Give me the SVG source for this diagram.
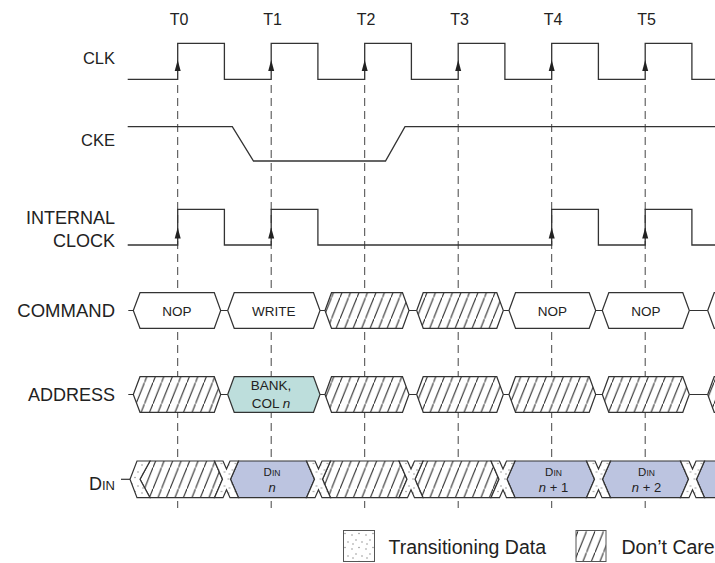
<svg xmlns="http://www.w3.org/2000/svg" xmlns:xlink="http://www.w3.org/1999/xlink" width="715" height="563" viewBox="0 0 715 563">
<style>
.wave{fill:none;stroke:#333;stroke-width:1.3}
.dash{fill:none;stroke:#444;stroke-width:1;stroke-dasharray:8 5}
.bus{stroke:#333;stroke-width:1.2;stroke-linejoin:miter}
.ln{fill:none;stroke:#333;stroke-width:1.2}
.lbl{font-family:"Liberation Sans",Arial,sans-serif;fill:#222}
.hat{fill:url(#hatch)}
.dot{fill:url(#dots)}
.wht{fill:#fff}
.blue{fill:#bcc4e0}
.teal{fill:#bddedc}
.arr{fill:#222}
</style>
<defs>
<pattern id="hatch" patternUnits="userSpaceOnUse" width="8.5" height="21.25">
<rect width="8.5" height="21.25" fill="#fff"/>
<path d="M-2,26.25 L10.5,-5" stroke="#222" stroke-width="1"/>
</pattern>
<pattern id="dots" patternUnits="userSpaceOnUse" width="14" height="14">
<rect width="14" height="14" fill="#fff"/>
<g fill="#8a8a8a"><circle cx="2" cy="3" r="0.75"/><circle cx="9" cy="1.5" r="0.75"/><circle cx="6" cy="8" r="0.75"/><circle cx="12" cy="10" r="0.75"/><circle cx="3" cy="12" r="0.75"/></g>
</pattern>
<polygon id="xcross" points="-12,461 -3.5,461 0,469 3.5,461 12,461 4,479.3 12,497.7 3.5,497.7 0,489.7 -3.5,497.7 -12,497.7 -4,479.3"/>
<path id="up" d="M0,0 L3,11 L-3,11 Z"/>
</defs>

<!-- time labels -->
<g id="tlabels" class="lbl" font-size="16" text-anchor="middle">
<text x="179" y="24.5">T0</text>
<text x="272.5" y="24.5">T1</text>
<text x="366" y="24.5">T2</text>
<text x="459.5" y="24.5">T3</text>
<text x="553" y="24.5">T4</text>
<text x="646.5" y="24.5">T5</text>
</g>

<!-- signal labels -->
<g id="labels" class="lbl" text-anchor="end">
<text x="115" y="64.3" font-size="16.5">CLK</text>
<text x="115" y="146" font-size="16.5">CKE</text>
<text x="115" y="223.5" font-size="18">INTERNAL</text>
<text x="115" y="246.5" font-size="18">CLOCK</text>
<text x="115" y="317.3" font-size="18.5">COMMAND</text>
<text x="115" y="401" font-size="18">ADDRESS</text>
<text x="115" y="490" font-size="18">D<tspan font-size="13">IN</tspan></text>
</g>

<!-- dashed time markers -->
<g id="connectors">
<path class="dash" d="M177.7,85 V508 M271.2,85 V508 M364.7,85 V508 M458.2,85 V508 M551.7,85 V508 M645.2,85 V508"/>
</g>

<!-- CLK -->
<g id="clk">
<path class="wave" d="M127.7,79.3 H177.7 V43.3 H224.4 V79.3 H271.2 V43.3 H317.9 V79.3 H364.7 V43.3 H411.4 V79.3 H458.2 V43.3 H504.9 V79.3 H551.7 V43.3 H598.4 V79.3 H645.2 V43.3 H691.9 V79.3 H715"/>
<g class="arr">
<use xlink:href="#up" x="177.7" y="60"/>
<use xlink:href="#up" x="271.2" y="60"/>
<use xlink:href="#up" x="364.7" y="60"/>
<use xlink:href="#up" x="458.2" y="60"/>
<use xlink:href="#up" x="551.7" y="60"/>
<use xlink:href="#up" x="645.2" y="60"/>
</g>
</g>

<!-- CKE -->
<g id="cke">
<path class="wave" d="M127.7,126.7 H232.3 L253.5,161 H385.5 L405,126.7 H715"/>
</g>

<!-- INTERNAL CLOCK -->
<g id="internal-clock">
<path class="wave" d="M127.7,245 H177.7 V209.3 H224.4 V245 H271.2 V209.3 H317.9 V245 H551.7 V209.3 H598.4 V245 H645.2 V209.3 H691.9 V245 H715"/>
<g class="arr">
<use xlink:href="#up" x="177.7" y="227.5"/>
<use xlink:href="#up" x="271.2" y="227.5"/>
<use xlink:href="#up" x="551.7" y="227.5"/>
<use xlink:href="#up" x="645.2" y="227.5"/>
</g>
</g>

<!-- COMMAND -->
<g id="command">
<path class="ln" d="M128.3,310.5 H133.3 M220.7,310.5 H227.7 M320,310.5 H325 M409,310.5 H416.7 M503.3,310.5 H509 M595.7,310.5 H602.3 M689.3,310.5 H707.7"/>
<polygon class="bus wht" points="133.3,310.5 140,292.7 214.3,292.7 220.7,310.5 214.3,328.3 140,328.3"/>
<polygon class="bus wht" points="227.7,310.5 234.2,292.7 313.5,292.7 320,310.5 313.5,328.3 234.2,328.3"/>
<polygon class="bus hat" points="325,310.5 331.5,292.7 402.5,292.7 409,310.5 402.5,328.3 331.5,328.3"/>
<polygon class="bus hat" points="416.7,310.5 423.2,292.7 496.8,292.7 503.3,310.5 496.8,328.3 423.2,328.3"/>
<polygon class="bus wht" points="509,310.5 515.5,292.7 589.2,292.7 595.7,310.5 589.2,328.3 515.5,328.3"/>
<polygon class="bus wht" points="602.3,310.5 608.8,292.7 682.8,292.7 689.3,310.5 682.8,328.3 608.8,328.3"/>
<polygon class="bus wht" points="707.7,310.5 714.2,292.7 720,292.7 720,328.3 714.2,328.3"/>
<g class="lbl" font-size="13.5" text-anchor="middle">
<text x="177" y="316">NOP</text>
<text x="273.8" y="316">WRITE</text>
<text x="552.3" y="316">NOP</text>
<text x="645.8" y="316">NOP</text>
</g>
</g>

<!-- ADDRESS -->
<g id="address">
<path class="ln" d="M128.3,394.5 H133.3 M220.7,394.5 H227.7 M320,394.5 H325 M409,394.5 H416.7 M503.3,394.5 H509 M595.7,394.5 H602.3 M689.3,394.5 H707.7"/>
<polygon class="bus hat" points="133.3,394.5 140,376.7 214.3,376.7 220.7,394.5 214.3,412.3 140,412.3"/>
<polygon class="bus teal" points="227.7,394.5 234.2,376.7 313.5,376.7 320,394.5 313.5,412.3 234.2,412.3"/>
<polygon class="bus hat" points="325,394.5 331.5,376.7 402.5,376.7 409,394.5 402.5,412.3 331.5,412.3"/>
<polygon class="bus hat" points="416.7,394.5 423.2,376.7 496.8,376.7 503.3,394.5 496.8,412.3 423.2,412.3"/>
<polygon class="bus hat" points="509,394.5 515.5,376.7 589.2,376.7 595.7,394.5 589.2,412.3 515.5,412.3"/>
<polygon class="bus hat" points="602.3,394.5 608.8,376.7 682.8,376.7 689.3,394.5 682.8,412.3 608.8,412.3"/>
<polygon class="bus hat" points="707.7,394.5 714.2,376.7 720,376.7 720,412.3 714.2,412.3"/>
<g class="lbl" font-size="13.5" text-anchor="middle">
<text x="271" y="390">BANK,</text>
<text x="271" y="408">COL <tspan font-style="italic">n</tspan></text>
</g>
</g>

<!-- DIN -->
<g id="din">
<path class="ln" d="M121,479.3 H130"/>
<polygon class="bus hat" points="150,461 214.5,461 222.5,479.3 214.5,497.7 150,497.7 140,479.3"/>
<polygon class="bus dot" points="137,461 150,461 140,479.3 150,497.7 137,497.7 130,479.3"/>
<polygon class="bus blue" points="238.5,461 306.5,461 314.5,479.3 306.5,497.7 238.5,497.7 230.5,479.3"/>
<polygon class="bus hat" points="330.5,461 399,461 407,479.3 399,497.7 330.5,497.7 322.5,479.3"/>
<polygon class="bus hat" points="423,461 491,461 499,479.3 491,497.7 423,497.7 415,479.3"/>
<polygon class="bus blue" points="515,461 586.5,461 594.5,479.3 586.5,497.7 515,497.7 507,479.3"/>
<polygon class="bus blue" points="610.5,461 680.5,461 688.5,479.3 680.5,497.7 610.5,497.7 602.5,479.3"/>
<polygon class="bus blue" points="704.5,461 720,461 720,497.7 704.5,497.7 696.5,479.3"/>
<g class="bus dot">
<use xlink:href="#xcross" x="226.5"/>
<use xlink:href="#xcross" x="318.5"/>
<use xlink:href="#xcross" x="411"/>
<use xlink:href="#xcross" x="503"/>
<use xlink:href="#xcross" x="598.5"/>
<use xlink:href="#xcross" x="692.5"/>
</g>
<g class="lbl" text-anchor="middle">
<text x="272" y="476" font-size="11.5">D<tspan font-size="8.5">IN</tspan></text>
<text x="272" y="492" font-size="13" font-style="italic">n</text>
<text x="553.5" y="476" font-size="11.5">D<tspan font-size="8.5">IN</tspan></text>
<text x="553.5" y="492" font-size="13"><tspan font-style="italic">n</tspan> + 1</text>
<text x="646.5" y="476" font-size="11.5">D<tspan font-size="8.5">IN</tspan></text>
<text x="646.5" y="492" font-size="13"><tspan font-style="italic">n</tspan> + 2</text>
</g>
</g>

<!-- legend -->
<g id="legend">
<rect x="343.5" y="530.5" width="31" height="31" fill="url(#dots)" stroke="#555" stroke-width="1"/>
<text class="lbl" x="388.5" y="554" font-size="19.5">Transitioning Data</text>
<rect x="576" y="530.5" width="30" height="31" fill="url(#hatch)" stroke="#555" stroke-width="1"/>
<text class="lbl" x="621.5" y="554" font-size="19.5">Don’t Care</text>
</g>
</svg>
